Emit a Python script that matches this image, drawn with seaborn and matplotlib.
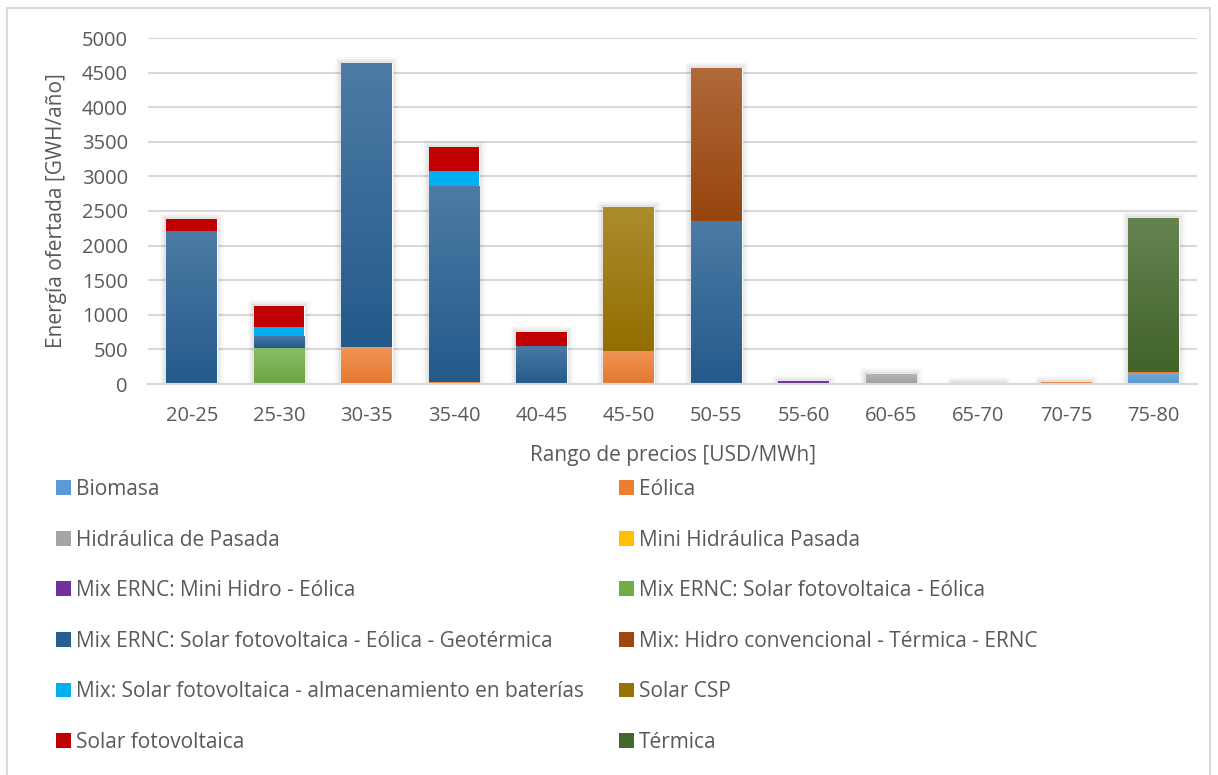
import numpy as np
import pandas as pd
import matplotlib
matplotlib.use("Agg")
import matplotlib.pyplot as plt
import matplotlib.colors as mcolors
import matplotlib.patheffects as pe
from matplotlib.patches import Rectangle
import seaborn as sns

# ---- data -------------------------------------------------------------
categories = ["20-25", "25-30", "30-35", "35-40", "40-45", "45-50",
              "50-55", "55-60", "60-65", "65-70", "70-75", "75-80"]

biomasa          = [0,    0,    0,    0,    0,    0,    0,    0,  0,   0,  0,  160]
eolica           = [0,    0,    530,  30,   0,    475,  0,    5,  5,   0,  30, 15]
hidraulica       = [0,    0,    0,    0,    0,    0,    0,    0,  140, 15, 0,  0]
mini_hidraulica  = [0,    0,    0,    0,    0,    0,    0,    0,  0,   0,  0,  0]
mix_minihidro    = [0,    0,    0,    0,    0,    0,    0,    45, 0,   0,  0,  0]
mix_solar_eol    = [0,    525,  0,    0,    0,    0,    0,    0,  0,   0,  0,  0]
mix_solar_geo    = [2215, 175,  4105, 2825, 555,  0,    2360, 0,  0,   0,  0,  0]
mix_hidro_conv   = [0,    0,    0,    0,    0,    0,    2205, 0,  0,   0,  0,  0]
mix_baterias     = [0,    120,  0,    220,  0,    0,    0,    0,  0,   0,  0,  0]
solar_csp        = [0,    0,    0,    0,    0,    2085, 0,    0,  0,   0,  0,  0]
solar_fv         = [175,  310,  0,    350,  190,  0,    0,    0,  0,   0,  0,  0]
termica          = [0,    0,    0,    0,    0,    0,    0,    0,  0,   0,  0,  2225]

series_names = [
    "Biomasa", "Eólica", "Hidráulica de Pasada", "Mini Hidráulica Pasada",
    "Mix ERNC: Mini Hidro - Eólica", "Mix ERNC: Solar fotovoltaica - Eólica",
    "Mix ERNC: Solar fotovoltaica - Eólica - Geotérmica",
    "Mix: Hidro convencional - Térmica - ERNC",
    "Mix: Solar fotovoltaica - almacenamiento en baterías",
    "Solar CSP", "Solar fotovoltaica", "Térmica",
]
series_values = [biomasa, eolica, hidraulica, mini_hidraulica, mix_minihidro,
                 mix_solar_eol, mix_solar_geo, mix_hidro_conv, mix_baterias,
                 solar_csp, solar_fv, termica]

# ---- style ------------------------------------------------------------
series_colors = ["#5B9BD5", "#ED7D31", "#A5A5A5", "#FFC000", "#7030A0",
                 "#70AD47", "#255E91", "#9E480E", "#00B0F0", "#997300",
                 "#C00000", "#43682B"]
# theme colours get a soft vertical gradient, custom ones stay flat
series_gradient = [True, True, True, True, False, True, True, True,
                   False, True, False, True]

TEXT = "#595959"
GRID = "#D9D9D9"

sns.set_theme(style="white")
plt.rcParams["font.family"] = ["Open Sans", "DejaVu Sans"]
plt.rcParams["text.color"] = TEXT

fig = plt.figure(figsize=(12.18, 7.75), dpi=100)
fig.patch.set_facecolor("white")
W, H = 1218, 775
ax = fig.add_axes([148 / W, 1 - 384 / H, (1197 - 148) / W, (384 - 38) / H])

# outer chart frame
fig.add_artist(Rectangle((7 / W, -0.01), (1210 - 7) / W, 1 - 8 / H + 0.01,
                         transform=fig.transFigure, fill=False,
                         edgecolor=GRID, linewidth=1.5))

bar_width = 0.58
totals = np.sum(np.array(series_values), axis=0)

# soft shadow behind each stacked column
sns.barplot(x=categories, y=totals, order=categories, width=bar_width,
            color="white", saturation=1, ax=ax, zorder=1.5)
for patch in ax.containers[-1]:
    if patch.get_height() > 0:
        patch.set_path_effects([
            pe.Stroke(linewidth=9, foreground="#000000", alpha=0.025),
            pe.Stroke(linewidth=6, foreground="#000000", alpha=0.04),
            pe.Stroke(linewidth=3, foreground="#000000", alpha=0.06),
            pe.Normal()])
    else:
        patch.set_visible(False)


def blend(c, other, t):
    a = np.array(mcolors.to_rgb(c))
    b = np.array(mcolors.to_rgb(other))
    return tuple(a * (1 - t) + b * t)


bottom = np.zeros(len(categories))
for name, vals, col, grad in zip(series_names, series_values, series_colors,
                                 series_gradient):
    vals = np.array(vals, dtype=float)
    sns.barplot(x=categories, y=vals, bottom=bottom, order=categories,
                width=bar_width, color=col, saturation=1, linewidth=0,
                ax=ax, zorder=2, label=name)
    if grad:
        top_c = blend(col, "white", 0.18)
        bot_c = blend(col, "black", 0.04)
        cmap = mcolors.LinearSegmentedColormap.from_list("g", [bot_c, top_c])
        for patch in ax.containers[-1]:
            h = patch.get_height()
            if h <= 0:
                continue
            x0 = patch.get_x()
            y0 = patch.get_y()
            img = ax.imshow(np.linspace(0, 1, 64).reshape(-1, 1), cmap=cmap,
                            origin="lower", aspect="auto",
                            extent=[x0, x0 + patch.get_width(), y0, y0 + h],
                            zorder=2.1, interpolation="bilinear")
            img.set_clip_path(patch)
    bottom = bottom + vals

if ax.get_legend() is not None:
    ax.get_legend().remove()

ax.set_xlim(-0.5, len(categories) - 0.5)
ax.set_ylim(0, 5000)
ax.set_aspect("auto")
ax.set_yticks(np.arange(0, 5001, 500))
ax.yaxis.grid(True, color=GRID, linewidth=1.5)
ax.set_axisbelow(True)
for s in ["top", "right", "left"]:
    ax.spines[s].set_visible(False)
ax.spines["bottom"].set_color(GRID)
ax.spines["bottom"].set_linewidth(1.5)
ax.spines["bottom"].set_zorder(3)

ax.tick_params(axis="both", length=0, labelsize=14.5, labelcolor=TEXT)
ax.tick_params(axis="x", pad=15.5)
ax.tick_params(axis="y", pad=14.5)
ax.set_xlabel("Rango de precios [USD/MWh]", fontsize=15, color=TEXT, labelpad=14)
ax.set_ylabel("Energía ofertada [GWH/año]", fontsize=15, color=TEXT, labelpad=10.5)

# legend, filled row by row in two columns
handles, labels = ax.get_legend_handles_labels()
order = [0, 2, 4, 6, 8, 10, 1, 3, 5, 7, 9, 11]
fig.legend([handles[i] for i in order], [labels[i] for i in order],
           loc="upper left", bbox_to_anchor=(56 / W, 1 - 479 / H),
           ncol=2, frameon=False, fontsize=15, labelcolor=TEXT,
           handlelength=0.72, handleheight=0.72, handletextpad=0.24,
           labelspacing=1.42, columnspacing=1.68, borderpad=0,
           borderaxespad=0)

fig.savefig("out.png", dpi=100, facecolor="white")
